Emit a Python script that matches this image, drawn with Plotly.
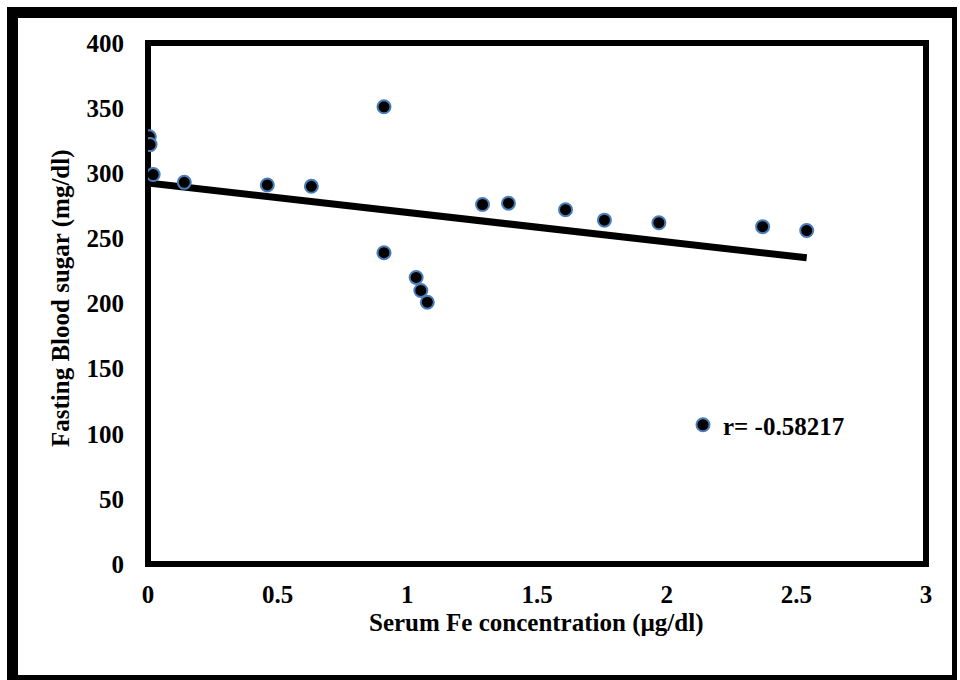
import plotly.graph_objects as go

# Data
fe_conc = [0.005, 0.008, 0.02, 0.14, 0.46, 0.63, 0.91, 0.91, 1.034, 1.052, 1.077,
           1.29, 1.39, 1.61, 1.76, 1.97, 2.37, 2.54]
blood_sugar = [328, 322, 299, 293, 291, 290, 351, 239, 220, 210, 201,
               276, 277, 272, 264, 262, 259, 256]
trend_intercept = 292.5
trend_slope = -22.6
legend_label = "r= -0.58217"
x_title = "Serum Fe concentration (µg/dl)"
y_title = "Fasting Blood sugar (mg/dl)"

FONT = "Liberation Serif, Times New Roman, serif"
FS = 25

x_end = max(fe_conc)
trend_x = [0, x_end]
trend_y = [trend_intercept + trend_slope * v for v in trend_x]

fig = go.Figure()
fig.add_trace(go.Scatter(
    x=trend_x, y=trend_y, mode="lines",
    line=dict(color="black", width=7), showlegend=False, hoverinfo="skip"))
fig.add_trace(go.Scatter(
    x=fe_conc, y=blood_sugar, mode="markers", name=legend_label,
    marker=dict(size=13, color="black", line=dict(color="#4a7ebb", width=2))))

# pixel geometry helpers for decorative frame
L, R, T, B = 148, 926, 43, 564
W, H = 960, 680
def px(x):
    return (x - L) / (R - L)
def py(y):
    return (B - y) / (B - T)

shapes = [
    dict(type="rect", xref="paper", yref="paper", x0=0, x1=1, y0=0, y1=1,
         line=dict(color="black", width=6), layer="below"),
    # outer border
    dict(type="line", xref="paper", yref="paper", x0=px(7), x1=px(957), y0=py(12.5), y1=py(12.5),
         line=dict(color="black", width=11)),
    dict(type="line", xref="paper", yref="paper", x0=px(12.5), x1=px(12.5), y0=py(7), y1=py(680),
         line=dict(color="black", width=11)),
    dict(type="line", xref="paper", yref="paper", x0=px(954.5), x1=px(954.5), y0=py(7), y1=py(680),
         line=dict(color="black", width=5)),
    dict(type="line", xref="paper", yref="paper", x0=px(7), x1=px(957), y0=py(677.5), y1=py(677.5),
         line=dict(color="black", width=5)),
]

tickfont = dict(family=FONT, size=FS, color="black", weight="bold")

fig.update_layout(
    width=W, height=H,
    margin=dict(l=L, r=W - R, t=T, b=H - B),
    paper_bgcolor="white", plot_bgcolor="white",
    font=dict(family=FONT, color="black"),
    shapes=shapes,
    showlegend=True,
    legend=dict(x=px(683), y=py(425), xanchor="left", yanchor="middle",
                bgcolor="rgba(0,0,0,0)", font=dict(family=FONT, size=FS, color="black", weight="bold")),
    xaxis=dict(range=[0, 3], dtick=0.5, tick0=0, showgrid=False, zeroline=False, showline=False,
               ticks="outside", ticklen=8, tickcolor="rgba(0,0,0,0)", tickfont=tickfont),
    yaxis=dict(range=[0, 400], dtick=50, tick0=0, showgrid=False, zeroline=False, showline=False,
               ticks="outside", ticklen=18, tickcolor="rgba(0,0,0,0)", tickfont=tickfont),
    annotations=[
        dict(text=x_title, xref="paper", yref="paper", x=px(536), y=py(623),
             xanchor="center", yanchor="middle", showarrow=False,
             font=dict(family=FONT, size=FS, color="black", weight="bold")),
        dict(text=y_title, xref="paper", yref="paper", x=px(61), y=py(298),
             xanchor="center", yanchor="middle", showarrow=False, textangle=-90,
             font=dict(family=FONT, size=FS, color="black", weight="bold")),
    ],
)

fig.write_html("out.html", config={"displayModeBar": False},
               post_script="document.body.style.margin='0';document.body.style.overflow='hidden';")
